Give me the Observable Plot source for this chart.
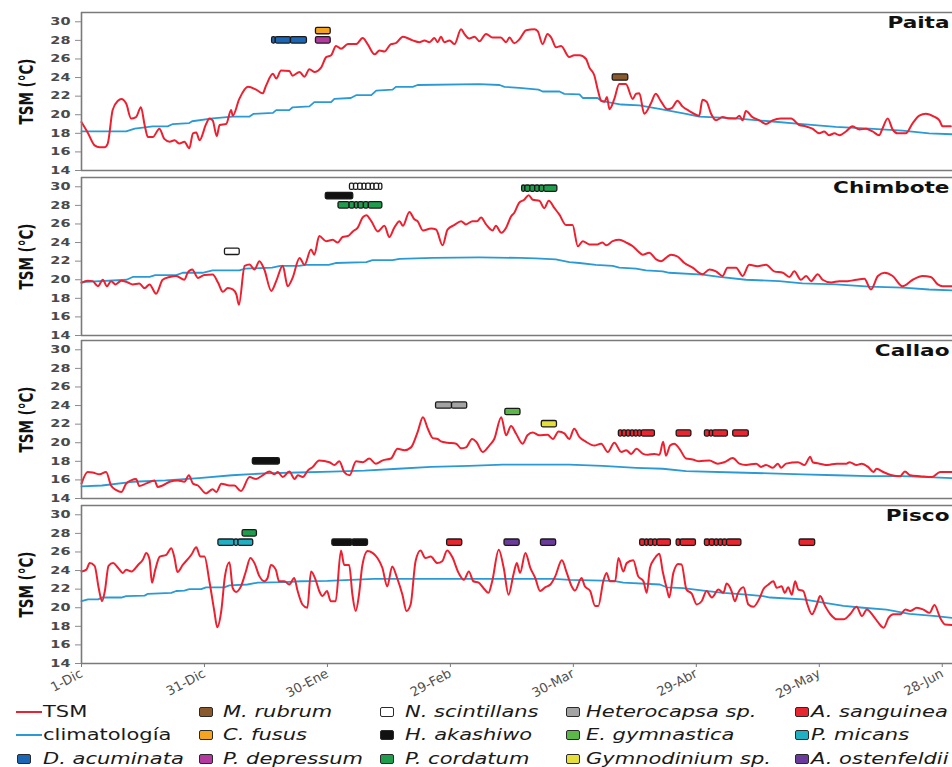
<!DOCTYPE html>
<html><head><meta charset="utf-8">
<script src="https://cdn.jsdelivr.net/npm/d3@7"></script>
<script src="https://cdn.jsdelivr.net/npm/@observablehq/plot@0.6"></script>
<style>
body{margin:0;background:#fff;width:952px;height:767px;overflow:hidden;position:relative;font-family:"DejaVu Sans",sans-serif}
#charts svg{display:block}
.lg-line{position:absolute;height:2px;width:26px}
.lg-box{position:absolute;width:14px;height:10px;border:1.5px solid #2a2a2a;border-radius:2px;box-sizing:border-box}
.lg-text{position:absolute;font-size:15px;line-height:18px;white-space:nowrap;color:#1a1a1a;transform:scaleX(1.4);transform-origin:left center}
</style></head><body>
<div id="charts"></div>
<div id="legend"></div>
<script>
// ---------- data ----------
const stations = ["Paita", "Chimbote", "Callao", "Pisco"];
const yLabel = "TSM (°C)";
const yTicks = [14, 16, 18, 20, 22, 24, 26, 28, 30];
const tickDays = [0, 30, 60, 90, 120, 150, 180, 210];
const tickLabels = ["1-Dic", "31-Dic", "30-Ene", "29-Feb", "30-Mar", "29-Abr", "29-May", "28-Jun"];

const paitaTSM = [[0,19.2],[1.5,18.1],[3.2,16.7],[4.4,16.5],[5.6,16.5],[6.4,16.9],[7.6,20.5],[8.9,21.5],[9.7,21.7],[10.9,21.2],[12.1,19.6],[13.3,19.75],[14.5,20.8],[15.4,18.9],[16.2,17.6],[17.4,17.6],[19,18.5],[20.2,17.4],[21.5,17.1],[22.7,17.25],[23.9,16.9],[25.1,17.1],[26.3,16.4],[27.2,18.0],[28,18.1],[28.8,17.25],[30.4,19.0],[31.2,19.6],[32,19.4],[33,17.7],[33.7,18.9],[35.3,19.0],[36.5,20.5],[36.9,19.9],[38.5,21.7],[40.6,23.0],[42.6,22.7],[44.2,22.3],[45,23.1],[46.7,24.4],[47.5,23.9],[48.7,24.75],[50.7,24.7],[51.5,24.2],[53.2,24.6],[54.4,24.1],[55.6,24.9],[56.8,24.6],[58.5,25.1],[59.7,26.2],[60.9,26.4],[62.1,27.4],[63.3,27.1],[65,27.6],[67,27.6],[68.6,28.25],[69.8,27.6],[71.5,26.5],[72.7,26.9],[73.9,26.8],[75.5,27.6],[76.7,27.7],[78.4,28.4],[80.8,28.0],[82.4,27.8],[83.7,28.0],[84.9,27.8],[86.1,28.25],[86.9,27.8],[87.7,28.4],[88.5,27.8],[89.8,28.0],[91,27.6],[92.6,29.2],[93.4,28.7],[94.6,28.2],[95.9,28.4],[97.1,27.9],[98.7,28.7],[100.3,28.3],[102.3,28.3],[103.6,27.8],[104.4,28.3],[105.6,27.7],[106.8,28.1],[108.5,29.1],[110.5,29.2],[111.3,29.0],[112.5,27.6],[113.7,28.7],[114.6,28.3],[115.8,27.25],[117,27.4],[119,26.2],[120.2,26.4],[121.5,26.4],[123.1,26.0],[123.9,25.1],[125.1,24.25],[126,22.6],[126.8,21.5],[127.6,21.4],[128.2,21.9],[128.8,20.6],[130,21.7],[131.2,23.3],[132.8,23.3],[134.5,21.7],[135.3,22.25],[136.1,22.3],[137.3,20.1],[138.9,21.2],[140.1,22.25],[141.3,21.5],[142.9,20.6],[144.1,20.75],[145.4,21.5],[146.6,20.9],[148.3,20.4],[150.7,19.9],[151.5,21.6],[152.5,21.4],[153.6,20.1],[154.8,19.4],[156.4,19.75],[158,19.6],[159.6,19.6],[160.5,19.9],[161.3,19.4],[162.1,20.4],[163.7,19.75],[165.4,19.4],[167,19.0],[168.6,19.4],[170.6,19.6],[173.1,19.6],[175.1,18.9],[176.7,18.75],[178.3,18.5],[180,18.0],[181.2,18.2],[182.4,17.8],[183.7,18.0],[184.9,17.8],[186.5,18.2],[188.1,18.75],[189.8,18.4],[191.4,18.5],[193,18.2],[194.6,17.8],[195.4,18.5],[196.7,19.6],[197.9,18.4],[199.1,18.0],[201.1,18.0],[202.8,19.1],[204.4,19.9],[206,20.1],[208,19.8],[209.3,19.4],[210.1,18.75],[212.1,18.75]];
const paitaClim = [[0,18.2],[10.9,18.2],[13,18.5],[17.4,18.75],[21,18.75],[22.3,19.0],[26.3,19.1],[27,19.3],[32,19.6],[36.9,19.8],[41,19.8],[42,20.1],[46.7,20.2],[47.5,20.5],[50.7,20.5],[51.5,20.8],[55.6,20.9],[56.8,21.35],[60.9,21.35],[61.7,21.7],[65.7,21.8],[67,22.1],[70.7,22.1],[71.9,22.6],[75.9,22.7],[76.7,23.0],[80.8,23.0],[82,23.2],[97,23.3],[102,23.2],[103.2,23.0],[106.8,22.9],[111.5,22.7],[112.5,22.5],[116.6,22.5],[117.8,22.25],[121.5,22.2],[122.3,21.8],[125.9,21.8],[126.8,21.5],[131.7,21.1],[136.1,21.0],[141.3,20.6],[147.5,20.1],[150.7,19.8],[159.6,19.6],[167.8,19.3],[175.9,19.0],[184,18.7],[192.2,18.5],[200.3,18.3],[206.8,18.0],[212.5,17.9]];

const chimboteTSM = [[0,19.67],[1.5,19.9],[2.7,19.85],[4,19.3],[5.2,20.0],[6.2,19.3],[7.2,19.85],[8.3,19.5],[9.7,19.9],[11.3,19.7],[12.5,19.5],[14.1,19.6],[15.4,19.1],[16.6,19.5],[18.2,18.5],[19.8,20.0],[21.5,20.3],[23.1,20.4],[25.1,20.0],[25.9,20.75],[27,21.1],[28.4,20.2],[30,20.5],[32,20.55],[33.3,19.7],[34.5,18.7],[35.7,19.1],[36.9,18.95],[37.8,18.4],[38.4,17.3],[39.8,21.5],[41,21.65],[42.2,21.1],[43.4,22.0],[44.6,21.1],[46.3,18.8],[47.5,19.85],[49.1,21.5],[50.3,19.3],[51.5,20.2],[53.2,22.35],[54.4,21.6],[56,23.25],[56.8,22.7],[58,24.7],[59.7,24.15],[61.3,24.3],[62.5,24.0],[63.7,24.6],[65,24.7],[66.2,25.2],[67.4,25.6],[68.6,26.7],[69.5,26.95],[70.7,26.3],[72.3,25.2],[73.9,25.8],[75.1,24.6],[76.3,25.6],[77.6,26.3],[78.4,25.8],[80,27.3],[81.2,26.5],[82,26.3],[83.3,25.3],[85.3,25.5],[86.5,25.4],[88.1,23.7],[89.3,25.4],[91,25.9],[92.6,26.3],[93.8,25.95],[95.4,26.3],[96.5,26.3],[97.5,26.7],[98.7,25.95],[100.3,25.3],[101.1,25.8],[102.4,25.05],[103.6,25.6],[104.8,26.8],[105.6,27.2],[106.8,28.3],[108,28.6],[109.1,29.1],[110.1,28.6],[111.7,28.5],[112.9,27.7],[114,28.5],[115.4,27.7],[116.6,27.0],[118.2,25.9],[119.8,25.9],[121.1,23.6],[122.3,24.15],[123.9,23.8],[125.9,23.8],[127.1,24.0],[128,23.7],[129.6,24.15],[131.2,24.3],[132.9,24.0],[134.5,23.6],[135.7,23.1],[136.9,22.7],[138.5,22.9],[140.2,22.2],[141.4,22.0],[142.6,22.35],[143.8,22.7],[145.4,22.5],[147.1,21.8],[149.1,21.3],[151.5,20.6],[153.2,21.1],[154.8,20.9],[156.4,20.4],[157.6,21.3],[159.7,21.3],[161.3,20.4],[162.9,21.6],[164.9,21.45],[167,21.6],[169,20.9],[171.1,20.75],[172.7,20.3],[173.9,20.9],[175.5,20.0],[176.8,20.4],[178,19.85],[179.6,20.6],[180.8,20.0],[182.9,19.7],[184.9,19.85],[186.9,19.85],[189,20.0],[191,20.1],[192.6,18.95],[194.3,20.4],[195.9,20.75],[197.9,20.4],[200.3,19.3],[202.8,20.0],[205.2,20.4],[207.2,20.3],[208.9,19.5],[210.1,19.3],[212.5,19.3]];
const chimboteClim = [[0,19.74],[11,20.0],[12.5,20.3],[16.6,20.3],[18,20.5],[23.1,20.5],[24.7,20.75],[29.5,20.75],[32,21.0],[38.5,21.0],[40,21.2],[46.5,21.3],[48.5,21.5],[53,21.5],[54.8,21.6],[60.3,21.6],[62,21.8],[69.5,21.9],[71,22.1],[75.9,22.1],[77.6,22.25],[85.7,22.35],[97.1,22.4],[106.8,22.35],[110.8,22.3],[115.7,22.2],[119,21.9],[121.5,21.8],[125.5,21.6],[129.6,21.5],[131.2,21.3],[135.3,21.2],[137.7,21.0],[141.8,20.9],[143.4,20.75],[151.5,20.55],[155.6,20.3],[162.1,20.0],[170.2,19.85],[175.9,19.6],[184,19.5],[192.2,19.25],[200.3,19.15],[206.8,18.95],[212.5,18.85]];

const callaoTSM = [[0,15.6],[1.5,16.85],[2.7,16.8],[4.4,16.6],[6,16.85],[7.2,15.4],[8.5,14.9],[9.7,14.7],[10.9,15.6],[12.1,15.95],[13.3,16.1],[14.1,15.35],[15.7,15.6],[17.8,15.95],[18.6,15.25],[19.8,15.4],[21.5,15.8],[23.5,15.95],[25.1,15.8],[26.2,16.5],[27.2,15.6],[28.4,15.4],[30.4,14.55],[32,15.0],[32.9,14.7],[34.1,15.6],[36.1,15.4],[37.3,15.4],[38.9,14.8],[41,16.3],[42.6,16.1],[44.2,16.5],[45.9,16.9],[47.1,16.6],[47.9,16.85],[49.1,16.3],[50.7,16.9],[52,16.1],[52.8,16.5],[54,16.3],[55.2,17.0],[56.4,17.4],[58,18.1],[60.5,17.9],[61.7,17.6],[62.9,18.0],[64.1,16.85],[65.4,16.5],[67,18.0],[68.6,17.9],[70.2,18.3],[71.8,17.75],[73.5,18.1],[75.5,18.3],[77.1,19.35],[78.8,19.2],[80.4,19.5],[82,21.15],[83.3,22.75],[84.5,21.5],[85.7,20.5],[86.9,20.4],[87.7,20.15],[89.3,20.0],[91.4,19.9],[92.6,19.4],[93.8,19.5],[95.3,20.4],[96.3,20.1],[97.9,19.0],[99.5,19.7],[100.7,20.4],[102.4,22.75],[103.6,20.8],[104.8,21.8],[106,21.0],[107.6,19.9],[108.8,20.8],[110.1,21.1],[111.7,20.8],[113.7,20.85],[115,20.4],[116.4,21.2],[117.8,21.0],[119,20.4],[120.2,21.5],[121.5,20.6],[123.1,20.1],[125.1,19.7],[126.8,19.9],[128.4,19.0],[130,20.0],[131.7,19.0],[132.9,19.2],[134.1,18.8],[135.4,19.35],[137,18.8],[138.2,18.7],[139.8,18.8],[141,18.7],[141.9,20.1],[142.6,18.6],[143.6,19.7],[144.6,19.9],[145.9,19.35],[147.5,18.3],[149.1,18.2],[150.7,18.0],[153.2,18.1],[155.2,17.75],[156.8,17.9],[158.9,18.35],[160.5,17.75],[162.1,17.6],[164.6,17.75],[165.8,17.4],[167,17.6],[168.7,17.3],[169.9,17.75],[170.7,17.3],[171.9,17.75],[174.8,17.9],[176.4,17.6],[177.8,18.5],[178.4,17.9],[180.1,17.75],[182.1,17.6],[184.2,17.75],[186.6,17.75],[187.4,17.9],[189.1,17.6],[190.3,17.75],[191.9,17.4],[193.2,16.85],[194,17.2],[195.6,16.85],[197.7,16.5],[199.7,16.4],[200.9,16.9],[202.2,16.5],[204.6,16.4],[207.5,16.3],[209.5,16.85],[212.5,16.85]];
const callaoClim = [[0,15.3],[5,15.4],[12.5,15.8],[20.5,15.95],[28.6,16.2],[36.7,16.5],[44.7,16.7],[52.8,16.8],[61,16.9],[69,17.0],[77.2,17.2],[85.3,17.4],[94.6,17.5],[102.8,17.65],[119,17.65],[127.1,17.5],[135.3,17.3],[141.8,17.2],[147.5,16.95],[159.6,16.8],[167.8,16.7],[175.9,16.6],[184,16.5],[192.2,16.4],[200.3,16.4],[212.5,16.2]];

const piscoTSM = [[0,23.9],[1.2,24.1],[2,24.8],[3.2,24.5],[4.2,22.1],[5,20.7],[5.7,21.8],[6.6,24.5],[7.7,24.8],[8.9,24.3],[10.1,23.75],[10.9,24.1],[12.2,23.9],[13.8,24.6],[15,25.2],[15.8,25.9],[16.6,25.2],[17.2,22.7],[18,24.1],[19.1,25.5],[20.7,25.7],[21.9,26.4],[22.7,25.35],[23.4,23.85],[24.7,24.6],[26.8,25.7],[28,26.5],[29,25.5],[30,25.5],[31.2,22.85],[32.4,19.65],[33.1,17.9],[34.1,19.65],[35,23.4],[36.1,24.9],[36.9,22.1],[37.7,21.7],[38.9,22.3],[40.1,23.9],[41.2,25.35],[42.2,24.8],[43.4,23.4],[44.6,22.85],[45.4,23.2],[46.2,24.6],[47.4,24.1],[48.2,22.85],[49.5,22.85],[50.7,22.5],[51.9,23.2],[52.7,21.85],[53.9,20.35],[55.1,20.0],[56,23.9],[57.2,22.9],[58,21.8],[58.8,21.25],[59.9,21.8],[60.8,20.7],[62,20.7],[63.3,26.15],[64.1,24.6],[65.3,24.6],[66.1,21.4],[66.9,19.65],[67.7,21.4],[68.5,24.5],[69.8,26.1],[71,25.9],[72.2,25.35],[73.4,24.3],[74.6,22.3],[75.8,24.45],[77,23.2],[78.3,21.4],[79.3,19.65],[80.3,20.35],[81.5,25.0],[82.7,26.15],[83.9,25.35],[85.2,25.5],[86.8,24.8],[88,25.0],[89.2,26.15],[90.4,25.5],[92,23.75],[93.3,23.0],[94.5,23.9],[95.6,22.85],[96.9,22.7],[98.1,22.1],[99.3,21.6],[100.2,22.85],[101.8,26.25],[103,24.3],[104.2,21.4],[105.4,23.6],[106.2,24.8],[107,23.75],[108.3,25.9],[109.5,24.3],[110.7,23.2],[111.9,21.8],[113.1,22.2],[114.4,22.5],[115.6,23.4],[117.2,25.1],[118.4,23.75],[119.6,22.3],[120.4,21.85],[122,23.2],[122.8,22.3],[124.1,21.8],[125.3,20.2],[126.1,20.2],[127.3,22.85],[128.1,23.75],[128.9,22.85],[130.2,22.85],[131,25.35],[132.2,23.9],[133,24.8],[134.6,25.1],[135.8,23.4],[137.1,22.85],[137.9,21.6],[138.7,24.3],[139.9,25.35],[141,25.8],[141.8,23.9],[142.8,22.05],[143.4,21.1],[144.4,23.75],[145.6,24.7],[146.4,24.65],[147.6,21.95],[148.9,21.5],[150.1,20.35],[151.3,20.7],[152.5,21.8],[153.8,21.1],[155.4,21.95],[156.6,21.6],[157.4,22.6],[158.6,21.8],[159.4,20.7],[160.2,21.6],[161.5,22.2],[162.7,20.35],[163.9,20.1],[165.5,21.1],[166.3,21.95],[167.6,22.5],[168.8,22.85],[169.6,22.15],[170.8,22.3],[171.6,21.6],[172.4,22.2],[173.3,21.4],[174.1,22.85],[174.9,21.95],[176.1,21.8],[177.1,20.35],[178.2,19.3],[179.4,20.35],[180.2,21.25],[181.4,20.2],[182.7,19.3],[184.3,18.75],[185.9,18.75],[187.5,19.3],[189.1,20.1],[190.4,19.1],[191.6,19.8],[193.2,19.1],[194.4,18.4],[195.7,17.85],[196.9,18.9],[198.1,19.3],[199.8,19.3],[201,19.8],[202.2,19.65],[203.8,20.0],[205.4,19.8],[206.9,19.45],[208.1,20.3],[209.5,18.9],[210.7,18.2],[212.5,18.15]];
const piscoClim = [[0,20.7],[1.6,20.9],[4.1,20.9],[4.9,21.1],[9.7,21.1],[10.9,21.25],[15.4,21.3],[16.2,21.5],[21.9,21.6],[23.1,21.8],[25.1,21.85],[26.3,22.0],[29.2,22.0],[30.4,22.2],[34.8,22.2],[36.1,22.4],[40.5,22.5],[43,22.7],[49.5,22.75],[53.5,22.85],[60,22.9],[65.7,23.0],[71.3,23.1],[115.2,23.1],[119.2,23.0],[129.8,22.9],[132.2,22.7],[141.1,22.5],[142.8,22.2],[146.8,22.1],[151.7,21.85],[156.6,21.6],[162.3,21.4],[166.3,21.25],[168,21.1],[176.1,20.9],[185.9,20.2],[190.7,20.0],[196.4,19.8],[202,19.35],[208.5,19.1],[212.5,18.9]];

const tsmSeries = [paitaTSM, chimboteTSM, callaoTSM, piscoTSM];
const climSeries = [paitaClim, chimboteClim, callaoClim, piscoClim];

// species (legend order, column-major after TSM / climatología)
const speciesNames = ["D. acuminata", "M. rubrum", "C. fusus", "P. depressum", "N. scintillans", "H. akashiwo", "P. cordatum", "Heterocapsa sp.", "E. gymnastica", "Gymnodinium sp.", "A. sanguinea", "P. micans", "A. ostenfeldii"];
const speciesColors = ["#1b66b5", "#8a5a2c", "#f5a41f", "#b43a9f", "#ffffff", "#111111", "#1f9d4c", "#a3a3a3", "#5bb848", "#e6df3a", "#e8262f", "#1fb1c3", "#6a3b9b"];

// events: station, species, level (°C), segment edges (days since 1-Dic)
const events = [
  {station: "Paita", species: "D. acuminata", level: 28, edges: [46.5, 47.4, 51.1, 55.0]},
  {station: "Paita", species: "C. fusus", level: 29, edges: [57.2, 60.8]},
  {station: "Paita", species: "P. depressum", level: 28, edges: [57.2, 60.8]},
  {station: "Paita", species: "M. rubrum", level: 24, edges: [129.6, 133.4]},
  {station: "Chimbote", species: "N. scintillans", level: 23, edges: [35.0, 38.6]},
  {station: "Chimbote", species: "N. scintillans", level: 30, edges: [65.5, 66.5, 67.5, 68.6, 69.5, 70.6, 71.5, 72.6, 73.4]},
  {station: "Chimbote", species: "H. akashiwo", level: 29, edges: [59.6, 66.3]},
  {station: "Chimbote", species: "P. cordatum", level: 28, edges: [62.7, 65.4, 66.7, 67.6, 68.9, 70.1, 73.4]},
  {station: "Chimbote", species: "P. cordatum", level: 29.8, edges: [107.5, 108.3, 109.5, 110.7, 111.8, 112.9, 116.1]},
  {station: "Callao", species: "H. akashiwo", level: 18, edges: [41.8, 48.4]},
  {station: "Callao", species: "Heterocapsa sp.", level: 24, edges: [86.5, 90.4, 94.1]},
  {station: "Callao", species: "E. gymnastica", level: 23.3, edges: [103.4, 107.1]},
  {station: "Callao", species: "Gymnodinium sp.", level: 22, edges: [112.3, 116.0]},
  {station: "Callao", species: "A. sanguinea", level: 21, edges: [131.1, 132.0, 133.0, 134.0, 134.9, 135.8, 136.7, 139.9]},
  {station: "Callao", species: "A. sanguinea", level: 21, edges: [145.2, 148.8]},
  {station: "Callao", species: "A. sanguinea", level: 21, edges: [152.1, 153.3, 154.1, 157.7]},
  {station: "Callao", species: "A. sanguinea", level: 21, edges: [159.0, 162.8]},
  {station: "Pisco", species: "P. micans", level: 27, edges: [33.4, 37.3, 38.3, 41.9]},
  {station: "Pisco", species: "P. cordatum", level: 28, edges: [39.3, 42.8]},
  {station: "Pisco", species: "H. akashiwo", level: 27, edges: [61.2, 66.1, 69.9]},
  {station: "Pisco", species: "A. sanguinea", level: 27, edges: [89.2, 92.9]},
  {station: "Pisco", species: "A. ostenfeldii", level: 27, edges: [103.2, 106.9]},
  {station: "Pisco", species: "A. ostenfeldii", level: 27, edges: [112.1, 115.8]},
  {station: "Pisco", species: "A. sanguinea", level: 27, edges: [136.3, 137.5, 138.4, 139.5, 140.5, 143.8]},
  {station: "Pisco", species: "A. sanguinea", level: 27, edges: [145.2, 146.2, 149.9]},
  {station: "Pisco", species: "A. sanguinea", level: 27, edges: [152.1, 153.3, 154.5, 155.5, 156.5, 157.5, 161.0]},
  {station: "Pisco", species: "A. sanguinea", level: 27, edges: [175.2, 179.0]}
];

// ---------- build ----------
const tsmColor = "#ee2030";
const climColor = "#2a9ad6";
const frameColor = "#7a7a7a";
const xDomain = [0, 212.5];
const yDomain = [14, 31];
const INNER = 158;
const layout = [{mt: 12, mb: 2}, {mt: 5, mb: 2}, {mt: 3, mb: 2}, {mt: 5, mb: 38}];
const halfH = 0.34;

const segments = events.flatMap(e => d3.pairs(e.edges).map(([a, b]) => ({station: e.station, species: e.species, level: e.level, x1: a, x2: b})));

// horizontal stretch of a rendered text around an anchor point (wraps it in a <g>)
function stretchText(node, sx, sy, anchor) {
  const g = document.createElementNS("http://www.w3.org/2000/svg", "g");
  node.parentNode.insertBefore(g, node);
  g.appendChild(node);
  const bb = g.getBBox();
  const ax = anchor === "end" ? bb.x + bb.width : anchor === "start" ? bb.x : bb.x + bb.width / 2;
  const ay = bb.y + bb.height / 2;
  g.setAttribute("transform", `translate(${ax},${ay}) scale(${sx},${sy}) translate(${-ax},${-ay})`);
}

const charts = document.getElementById("charts");
stations.forEach((st, i) => {
  const {mt, mb} = layout[i];
  const last = i === stations.length - 1;
  const segs = segments.filter(s => s.station === st);
  const marks = [
    Plot.line(climSeries[i], {x: d => d[0], y: d => d[1], stroke: climColor, strokeWidth: 1.8}),
    Plot.line(tsmSeries[i], {x: d => d[0], y: d => d[1], stroke: tsmColor, strokeWidth: 2, curve: "monotone-x"}),
    Plot.rect(segs, {x1: "x1", x2: "x2", y1: d => d.level - halfH, y2: d => d.level + halfH, fill: "species", stroke: "#1a1a1a", strokeWidth: 1.3, rx: 1.5}),
    Plot.ruleY(yDomain, {stroke: frameColor, strokeWidth: 1.6}),
    Plot.ruleX([xDomain[0]], {stroke: frameColor, strokeWidth: 1.6}),
    Plot.axisY({ticks: yTicks, tickSize: 6, tickPadding: 5, fontSize: 10, fontWeight: "bold", stroke: "#8a8a8a", fill: "#4a4a4a", label: null}),
    Plot.text([st], {frameAnchor: "top-right", text: d => d, dx: -3, dy: 4, fontSize: 16, fontWeight: "bold", fill: "#111"}),
    Plot.text([yLabel], {frameAnchor: "left", textAnchor: "middle", lineAnchor: "middle", text: d => d, rotate: -90, dx: -55, fontSize: 15, fontWeight: "bold", fontFamily: "'Liberation Sans Narrow','DejaVu Sans Condensed',sans-serif", fill: "#111"})
  ];
  if (last) {
    marks.push(Plot.axisX({ticks: tickDays, tickFormat: d => tickLabels[tickDays.indexOf(d)], tickRotate: -28, tickSize: 4, tickPadding: 5, fontSize: 13, stroke: "#7a7a7a", fill: "#505050", label: null}));
  }
  const svg = Plot.plot({
    width: 952,
    height: mt + INNER + mb,
    marginLeft: 81, marginRight: 0, marginTop: mt, marginBottom: mb,
    style: {background: "#fff", fontFamily: "'DejaVu Sans', sans-serif", overflow: "visible"},
    x: last ? {domain: xDomain, label: null} : {domain: xDomain, axis: null},
    y: {domain: yDomain, label: null},
    color: {domain: speciesNames, range: speciesColors},
    marks
  });
  charts.appendChild(svg);
  svg.querySelectorAll('g[aria-label="y-axis tick label"] text').forEach(n => stretchText(n, 1.45, 1, "end"));
  Array.from(svg.querySelectorAll("text")).forEach(n => {
    if (n.textContent === st) stretchText(n, 1.35, 1, "end");
    else if (n.textContent === yLabel) stretchText(n, 1.35, 1, "middle");
  });
});

// ---------- legend ----------
const legend = document.getElementById("legend");
const legendEntries = [
  {label: "TSM", kind: "line", color: tsmColor, italic: false},
  {label: "climatología", kind: "line", color: climColor, italic: false},
  ...speciesNames.map((s, k) => ({label: s, kind: "box", color: speciesColors[k], italic: true}))
];
const colSwatch = [17, 199, 380, 566, 795];
const colText = [43, 223, 405, 586, 811];
const rowY = [712, 735, 759];
legendEntries.forEach((e, k) => {
  const c = Math.floor(k / 3), r = k % 3;
  const sw = document.createElement("div");
  if (e.kind === "line") {
    sw.className = "lg-line";
    sw.style.left = (colSwatch[c] - 1) + "px";
    sw.style.top = (rowY[r] - 1) + "px";
    sw.style.background = e.color;
  } else {
    sw.className = "lg-box";
    sw.style.left = colSwatch[c] + "px";
    sw.style.top = (rowY[r] - 5) + "px";
    sw.style.background = e.color;
  }
  legend.appendChild(sw);
  const tx = document.createElement("div");
  tx.className = "lg-text";
  tx.textContent = e.label;
  tx.style.left = colText[c] + "px";
  tx.style.top = (rowY[r] - 9) + "px";
  tx.style.fontStyle = e.italic ? "italic" : "normal";
  legend.appendChild(tx);
});
</script>
</body></html>
